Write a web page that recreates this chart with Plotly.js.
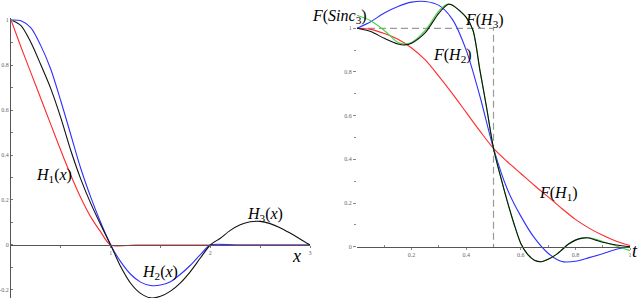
<!DOCTYPE html>
<html>
<head>
<meta charset="utf-8">
<script src="https://cdn.plot.ly/plotly-3.0.1.min.js"></script>
<style>html,body{margin:0;padding:0;background:#fff;}#chart{width:640px;height:298px;}</style>
</head>
<body>
<div id="chart"></div>
<script>
// ---- Left panel: kernels H1, H2, H3 ----
const h1X = [0,0.1,0.2,0.3,0.4,0.5,0.6,0.7,0.8,0.9,1.0,1.25,1.5,1.75,2.0,2.5,3.0];
const h1Y = [1,0.88,0.765,0.65,0.535,0.42,0.31,0.21,0.125,0.058,0,0,0,0,0,0,0];

const h2X = [0,0.1,0.2,0.3,0.4,0.5,0.6,0.7,0.8,0.9,1.0,1.1,1.2,1.3,1.4,1.5,1.6,1.7,1.8,1.9,2.0,2.25,2.5,2.75,3.0];
const h2Y = [1,0.997,0.965,0.885,0.78,0.64,0.49,0.34,0.213,0.10,0,-0.074,-0.13,-0.165,-0.18,-0.178,-0.163,-0.13,-0.09,-0.043,0,0,0,0,0];

const h3X = [0,0.1,0.2,0.3,0.4,0.5,0.6,0.7,0.8,0.9,1.0,1.1,1.2,1.3,1.4,1.5,1.6,1.7,1.8,1.9,2.0,2.1,2.2,2.3,2.4,2.5,2.6,2.7,2.8,2.9,3.0];
const h3Y = [1,0.975,0.9,0.8,0.694,0.565,0.42,0.293,0.185,0.09,0,-0.096,-0.17,-0.215,-0.235,-0.228,-0.205,-0.168,-0.118,-0.058,0,0.03,0.065,0.09,0.103,0.105,0.095,0.077,0.053,0.027,0];

const xTickVals = [1,2,3];
const xTickText = ['1','2','3'];
const yTickVals = [-0.2,0,0.2,0.4,0.6,0.8,1];
const yTickText = ['-0.2','0','0.2','0.4','0.6','0.8','1'];

// ---- Right panel: transforms ----
const fh1T = [0,0.05,0.1,0.15,0.2,0.25,0.3,0.35,0.4,0.45,0.5,0.55,0.6,0.65,0.7,0.75,0.8,0.85,0.9,0.95,1.0];
const fh1V = [1,0.995,0.976,0.95,0.91,0.855,0.78,0.70,0.615,0.53,0.45,0.39,0.335,0.28,0.228,0.175,0.125,0.085,0.052,0.025,0.005];

const fh2T = [0,0.05,0.1,0.15,0.2,0.25,0.3,0.35,0.4,0.45,0.5,0.55,0.6,0.65,0.7,0.75,0.8,0.85,0.9,0.95,1.0];
const fh2V = [1,1.03,1.07,1.1,1.12,1.123,1.105,1.04,0.90,0.69,0.45,0.265,0.14,0.04,-0.03,-0.068,-0.067,-0.05,-0.032,-0.012,0];

const fsT = [0,0.05,0.1,0.15,0.175,0.2,0.25,0.3,0.33,0.35,0.4,0.425,0.45,0.475,0.5,0.525,0.55,0.575,0.6,0.625,0.65,0.675,0.7,0.725,0.75,0.775,0.8,0.825,0.85,0.875,0.9,0.95,1.0];
const fsV = [1.06,1.035,0.99,0.935,0.928,0.935,0.99,1.08,1.11,1.105,1.05,0.99,0.81,0.635,0.45,0.325,0.21,0.105,0.015,-0.035,-0.062,-0.069,-0.058,-0.04,-0.015,0.012,0.03,0.039,0.041,0.034,0.023,0.003,-0.018];

const fh3T = [0,0.05,0.1,0.15,0.175,0.2,0.25,0.3,0.335,0.35,0.4,0.425,0.45,0.475,0.5,0.525,0.55,0.575,0.6,0.625,0.65,0.675,0.7,0.725,0.75,0.775,0.8,0.825,0.85,0.875,0.9,0.95,1.0];
const fh3V = [1,0.985,0.954,0.928,0.924,0.932,0.98,1.07,1.11,1.106,1.05,0.99,0.81,0.635,0.45,0.325,0.21,0.105,0.015,-0.035,-0.062,-0.069,-0.058,-0.04,-0.015,0.012,0.03,0.039,0.04,0.03,0.02,0.008,0];

const idealT = [0,0.5,0.5];
const idealV = [1,1,0];

const tTickVals = [0.2,0.4,0.6,0.8,1];
const tTickText = ['0.2','0.4','0.6','0.8','1'];
const vTickVals = [0,0.2,0.4,0.6,0.8,1];
const vTickText = ['0','0.2','0.4','0.6','0.8','1'];

// ---- helpers ----
const W = 640, H = 298;
const px = x => x / W;
const py = y => 1 - y / H;
const RED = '#ff2a2a', BLUE = '#2f2fff', GREEN = '#3fd33f', BLACK = '#111111';
const lineSty = c => ({color: c, width: 1.1, shape: 'spline', smoothing: 0.8});

const traces = [
  {x: h1X, y: h1Y, xaxis: 'x', yaxis: 'y', mode: 'lines', line: lineSty(RED)},
  {x: h2X, y: h2Y, xaxis: 'x', yaxis: 'y', mode: 'lines', line: lineSty(BLUE)},
  {x: h3X, y: h3Y, xaxis: 'x', yaxis: 'y', mode: 'lines', line: lineSty(BLACK)},
  {x: idealT, y: idealV, xaxis: 'x2', yaxis: 'y2', mode: 'lines', line: {color: '#9a9a9a', width: 1.2, dash: '7px,4px'}},
  {x: fh1T, y: fh1V, xaxis: 'x2', yaxis: 'y2', mode: 'lines', line: lineSty(RED)},
  {x: fh2T, y: fh2V, xaxis: 'x2', yaxis: 'y2', mode: 'lines', line: lineSty(BLUE)},
  {x: fsT, y: fsV, xaxis: 'x2', yaxis: 'y2', mode: 'lines', line: lineSty(GREEN)},
  {x: fh3T, y: fh3V, xaxis: 'x2', yaxis: 'y2', mode: 'lines', line: lineSty(BLACK)}
];

const SERIF = '"Liberation Serif", "Times New Roman", Times, serif';
const tickFont = {family: SERIF, size: 6, color: '#666'};
const labFont = {family: SERIF, size: 16, color: '#000'};

function ann(text, x, y, size) {
  return {text: text, x: px(x), y: py(y), xref: 'paper', yref: 'paper', showarrow: false,
          xanchor: 'center', yanchor: 'middle', font: Object.assign({}, labFont, size ? {size: size} : {})};
}

const layout = {
  width: W, height: H,
  margin: {l: 0, r: 0, t: 0, b: 0, pad: 0},
  paper_bgcolor: '#fff', plot_bgcolor: 'rgba(0,0,0,0)',
  showlegend: false,
  xaxis: {
    domain: [px(11), px(310)], range: [0, 3],
    anchor: 'free', position: (H - 245) / H,
    showline: true, linecolor: '#555', linewidth: 1,
    showgrid: false, zeroline: false,
    tickmode: 'array', tickvals: xTickVals, ticktext: xTickText,
    ticks: 'outside', ticklen: 2, tickcolor: '#777', tickfont: tickFont,
    minor: {tickmode: 'array', tickvals: [0.5,1.5,2.5], ticks: 'outside', ticklen: 2, tickcolor: '#777', showgrid: false}
  },
  yaxis: {
    domain: [0, (H - 18) / H], range: [-0.2356, 1.0089],
    anchor: 'x', showline: true, linecolor: '#555', linewidth: 1,
    showgrid: false, zeroline: false,
    tickmode: 'array', tickvals: yTickVals, ticktext: yTickText,
    ticks: 'inside', ticklen: 2, tickcolor: '#777', tickfont: tickFont,
    minor: {tickmode: 'array', tickvals: [-0.1,0.1,0.3,0.5,0.7,0.9], ticks: 'inside', ticklen: 2, tickcolor: '#777', showgrid: false}
  },
  xaxis2: {
    domain: [px(357), px(630)], range: [0, 1],
    anchor: 'free', position: (H - 246.7) / H,
    showline: true, linecolor: '#555', linewidth: 1,
    showgrid: false, zeroline: false,
    tickmode: 'array', tickvals: tTickVals, ticktext: tTickText,
    ticks: 'outside', ticklen: 2, tickcolor: '#888', tickfont: tickFont,
    minor: {tickmode: 'array', tickvals: [0.1,0.3,0.5,0.7,0.9], ticks: 'inside', ticklen: 2, tickcolor: '#888', showgrid: false}
  },
  yaxis2: {
    domain: [0, 1], range: [-0.235, 1.1296],
    anchor: 'x2', showline: false,
    showgrid: false, zeroline: false,
    tickmode: 'array', tickvals: vTickVals, ticktext: vTickText,
    ticks: 'outside', ticklen: 3, tickcolor: '#888', tickfont: tickFont,
    minor: {tickmode: 'array', tickvals: [0.1,0.3,0.5,0.7,0.9], ticks: 'outside', ticklen: 2, tickcolor: '#888', showgrid: false}
  },
  annotations: [
    ann('<i>H</i><sub>1</sub>(<i>x</i>)', 54, 175),
    ann('<i>H</i><sub>2</sub>(<i>x</i>)', 160, 272),
    ann('<i>H</i><sub>3</sub>(<i>x</i>)', 265, 214),
    ann('<i>x</i>', 296, 256, 18),
    ann('<i>F</i>(<i>Sinc</i><sub>3</sub>)', 339, 17),
    ann('<i>F</i>(<i>H</i><sub>3</sub>)', 484, 20),
    ann('<i>F</i>(<i>H</i><sub>2</sub>)', 452, 56),
    ann('<i>F</i>(<i>H</i><sub>1</sub>)', 558, 193),
    ann('<i>t</i>', 635, 251, 18)
  ]
};

Plotly.newPlot('chart', traces, layout, {staticPlot: true, displayModeBar: false});
</script>
</body>
</html>
